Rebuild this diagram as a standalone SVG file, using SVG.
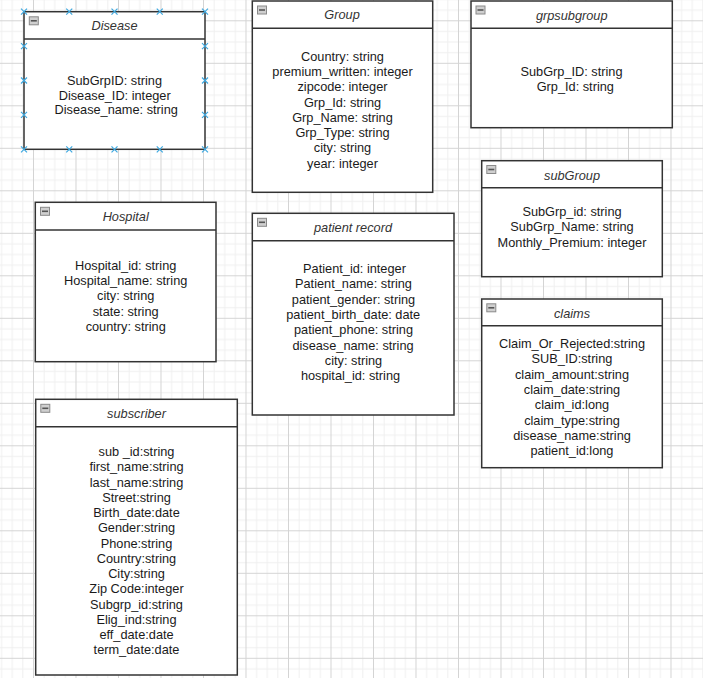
<svg xmlns="http://www.w3.org/2000/svg" width="703" height="678" viewBox="0 0 703 678">
<style>
.box{fill:#ffffff;stroke:#333333;stroke-width:1.5}
.hdr{fill:none;stroke:#333333;stroke-width:1.5}
.title{font-family:"Liberation Sans",Arial,sans-serif;font-size:12.75px;font-style:italic;fill:#333333;text-anchor:middle}
.rows{font-family:"Liberation Sans",Arial,sans-serif;font-size:12.75px;fill:#1a1a1a;text-anchor:middle}
.ico{fill:#cfcfcf;stroke:#8a8a8a;stroke-width:1}
.icobar{stroke:#555555;stroke-width:1.6}
.mk{stroke:#3fa9e0;stroke-width:1.2;fill:none}
</style>
<defs>
<pattern id="grid" patternUnits="userSpaceOnUse" x="33" y="20.3" width="42.5" height="42.5">
<path d="M11.125 0V42.5M21.75 0V42.5M32.375 0V42.5M0 11.125H42.5M0 21.75H42.5M0 32.375H42.5" stroke="#efefef" stroke-width="1" fill="none"/>
<path d="M0.5 0V42.5M0 0.5H42.5" stroke="#d4d4d4" stroke-width="1" fill="none"/>
</pattern>
<g id="icon"><rect class="ico" x="0.5" y="0.5" width="9" height="8"/><line class="icobar" x1="2" y1="4.5" x2="8" y2="4.5"/></g>
<path id="xm" class="mk" d="M-3 -3L3 3M-3 3L3 -3"/>
</defs>
<rect width="703" height="678" fill="#ffffff"/>
<rect width="703" height="678" fill="url(#grid)"/>

<g id="connectors"/>

<g id="disease">
<rect class="box" x="24" y="11.7" width="181" height="137.6"/>
<line class="hdr" x1="24" y1="39" x2="205" y2="39"/>
<use href="#icon" x="28.8" y="16.3"/>
<text class="title" x="114.5" y="30.2">Disease</text>
<text class="rows" x="114.5" y="84.5">SubGrpID: string</text>
<text class="rows" x="114.7" y="99.5">Disease_ID: integer</text>
<text class="rows" x="116.2" y="114">Disease_name: string</text>
<g>
<use href="#xm" x="24" y="11.7"/><use href="#xm" x="69.25" y="11.7"/><use href="#xm" x="114.5" y="11.7"/><use href="#xm" x="159.75" y="11.7"/><use href="#xm" x="205" y="11.7"/>
<use href="#xm" x="24" y="149.3"/><use href="#xm" x="69.25" y="149.3"/><use href="#xm" x="114.5" y="149.3"/><use href="#xm" x="159.75" y="149.3"/><use href="#xm" x="205" y="149.3"/>
<use href="#xm" x="24" y="46.1"/><use href="#xm" x="24" y="80.5"/><use href="#xm" x="24" y="114.9"/>
<use href="#xm" x="205" y="46.1"/><use href="#xm" x="205" y="80.5"/><use href="#xm" x="205" y="114.9"/>
</g>
</g>

<g id="group">
<rect class="box" x="252.3" y="1" width="180.4" height="191.3"/>
<line class="hdr" x1="252.3" y1="28.3" x2="432.7" y2="28.3"/>
<use href="#icon" x="257" y="5.5"/>
<text class="title" x="342" y="18.8">Group</text>
<text class="rows" x="342.5" y="61.2">Country: string</text>
<text class="rows" x="342.5" y="76.3">premium_written: integer</text>
<text class="rows" x="342.5" y="91.4">zipcode: integer</text>
<text class="rows" x="342.5" y="106.6">Grp_Id: string</text>
<text class="rows" x="342.5" y="121.8">Grp_Name: string</text>
<text class="rows" x="342.5" y="137">Grp_Type: string</text>
<text class="rows" x="342.5" y="152.2">city: string</text>
<text class="rows" x="342.5" y="167.6">year: integer</text>
</g>

<g id="grpsubgroup">
<rect class="box" x="471" y="1" width="201.3" height="126.7"/>
<line class="hdr" x1="471" y1="28.3" x2="672.3" y2="28.3"/>
<use href="#icon" x="475.5" y="5.5"/>
<text class="title" x="571.7" y="19.5">grpsubgroup</text>
<text class="rows" x="571.5" y="75.5">SubGrp_ID: string</text>
<text class="rows" x="575.3" y="90.5">Grp_Id: string</text>
</g>

<g id="subgroup">
<rect class="box" x="481.7" y="160.7" width="180.6" height="116"/>
<line class="hdr" x1="481.7" y1="187.7" x2="662.3" y2="187.7"/>
<use href="#icon" x="486.3" y="165"/>
<text class="title" x="572" y="179.5">subGroup</text>
<text class="rows" x="572" y="216.2">SubGrp_id: string</text>
<text class="rows" x="572" y="231.3">SubGrp_Name: string</text>
<text class="rows" x="572" y="246.6">Monthly_Premium: integer</text>
</g>

<g id="claims">
<rect class="box" x="481.7" y="299" width="180.6" height="168.7"/>
<line class="hdr" x1="481.7" y1="325.7" x2="662.3" y2="325.7"/>
<use href="#icon" x="486.3" y="303.3"/>
<text class="title" x="572" y="317.8">claims</text>
<text class="rows" x="572" y="347.8">Claim_Or_Rejected:string</text>
<text class="rows" x="572" y="363.2">SUB_ID:string</text>
<text class="rows" x="572" y="378.6">claim_amount:string</text>
<text class="rows" x="572" y="394">claim_date:string</text>
<text class="rows" x="572" y="409.4">claim_id:long</text>
<text class="rows" x="572" y="424.6">claim_type:string</text>
<text class="rows" x="572" y="440">disease_name:string</text>
<text class="rows" x="572" y="455.4">patient_id:long</text>
</g>

<g id="hospital">
<rect class="box" x="35.3" y="202.3" width="180.7" height="159.4"/>
<line class="hdr" x1="35.3" y1="230" x2="216" y2="230"/>
<use href="#icon" x="40" y="206.8"/>
<text class="title" x="125.7" y="221.2">Hospital</text>
<text class="rows" x="125.7" y="270.2">Hospital_id: string</text>
<text class="rows" x="125.7" y="285.4">Hospital_name: string</text>
<text class="rows" x="125.7" y="300.4">city: string</text>
<text class="rows" x="125.7" y="315.8">state: string</text>
<text class="rows" x="125.7" y="331">country: string</text>
</g>

<g id="patient-record">
<rect class="box" x="252.3" y="213.3" width="201.7" height="201.7"/>
<line class="hdr" x1="252.3" y1="240.7" x2="454" y2="240.7"/>
<use href="#icon" x="257" y="217.8"/>
<text class="title" x="353" y="232.2">patient record</text>
<text class="rows" x="354.5" y="272.8">Patient_id: integer</text>
<text class="rows" x="353.5" y="288.3">Patient_name: string</text>
<text class="rows" x="353.5" y="303.6">patient_gender: string</text>
<text class="rows" x="353.2" y="318.9">patient_birth_date: date</text>
<text class="rows" x="353.5" y="334.2">patient_phone: string</text>
<text class="rows" x="353" y="349.5">disease_name: string</text>
<text class="rows" x="353.5" y="364.8">city: string</text>
<text class="rows" x="350.5" y="380.1">hospital_id: string</text>
</g>

<g id="subscriber">
<rect class="box" x="35.7" y="399.3" width="201.6" height="275.7"/>
<line class="hdr" x1="35.7" y1="426.7" x2="237.3" y2="426.7"/>
<use href="#icon" x="40.3" y="403.8"/>
<text class="title" x="136.5" y="417.8">subscriber</text>
<text class="rows" x="136.5" y="456.2">sub _id:string</text>
<text class="rows" x="136.5" y="471.4">first_name:string</text>
<text class="rows" x="136.5" y="486.6">last_name:string</text>
<text class="rows" x="136.5" y="501.8">Street:string</text>
<text class="rows" x="136.5" y="517">Birth_date:date</text>
<text class="rows" x="136.5" y="532.2">Gender:string</text>
<text class="rows" x="136.5" y="547.6">Phone:string</text>
<text class="rows" x="136.5" y="562.8">Country:string</text>
<text class="rows" x="136.5" y="578">City:string</text>
<text class="rows" x="136.5" y="593.4">Zip Code:integer</text>
<text class="rows" x="136.5" y="608.6">Subgrp_id:string</text>
<text class="rows" x="136.5" y="623.8">Elig_ind:string</text>
<text class="rows" x="136.5" y="639">eff_date:date</text>
<text class="rows" x="136.5" y="654.4">term_date:date</text>
</g>
</svg>
